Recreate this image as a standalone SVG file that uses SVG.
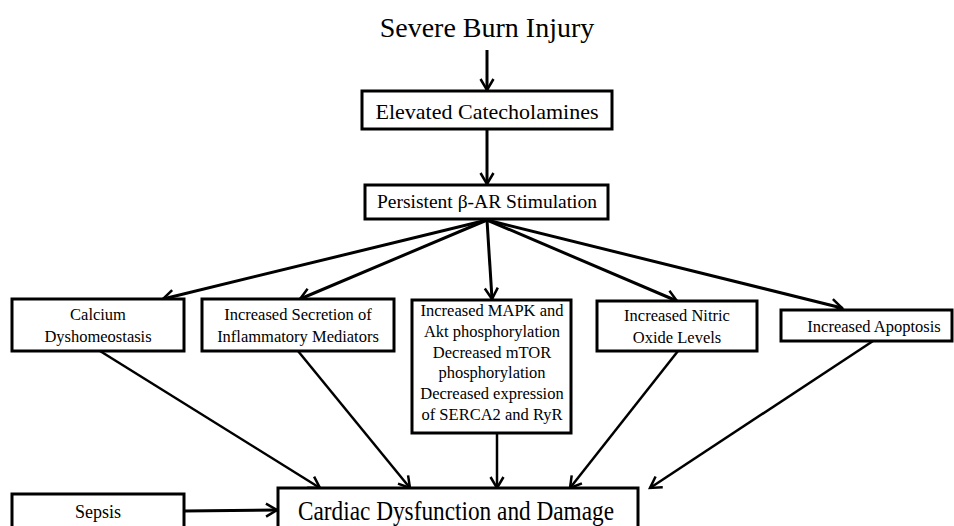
<svg xmlns="http://www.w3.org/2000/svg" width="954" height="526" viewBox="0 0 954 526">
<style>
.box{fill:#fff;stroke:#000;stroke-width:3}
.t{font-family:"Liberation Serif","Times New Roman",serif;fill:#000;text-anchor:middle}
.s{font-size:16.5px}
.c{fill:none;stroke:#000;stroke-width:3}
.c2{fill:none;stroke:#000;stroke-width:2.5}
</style>
<defs>
<marker id="ah" markerUnits="userSpaceOnUse" markerWidth="16" markerHeight="16" viewBox="0 0 16 16" refX="13" refY="8" orient="auto">
<path d="M2,1.5 L13,8 L2,14.5" fill="none" stroke="#000" stroke-width="2.5"/>
</marker>
</defs>
<g id="connectors">
<line class="c" x1="487" y1="50" x2="487" y2="90" marker-end="url(#ah)"/>
<line class="c" x1="487" y1="129" x2="487" y2="184" marker-end="url(#ah)"/>
<line class="c" x1="487" y1="220" x2="163" y2="299" marker-end="url(#ah)"/>
<line class="c" x1="487" y1="220" x2="300" y2="299" marker-end="url(#ah)"/>
<line class="c" x1="487" y1="220" x2="492" y2="299" marker-end="url(#ah)"/>
<line class="c" x1="487" y1="220" x2="677" y2="301" marker-end="url(#ah)"/>
<line class="c" x1="487" y1="220" x2="842" y2="308" marker-end="url(#ah)"/>
<line class="c2" x1="100" y1="351" x2="320" y2="488" marker-end="url(#ah)"/>
<line class="c2" x1="298" y1="351" x2="410" y2="488" marker-end="url(#ah)"/>
<line class="c2" x1="497" y1="433" x2="497" y2="488" marker-end="url(#ah)"/>
<line class="c2" x1="678" y1="351" x2="570" y2="488" marker-end="url(#ah)"/>
<line class="c2" x1="873" y1="341" x2="650" y2="488" marker-end="url(#ah)"/>
<line class="c" x1="184" y1="511" x2="277" y2="510" marker-end="url(#ah)"/>
</g>
<g id="severe-burn">
<text class="t" x="487" y="37" font-size="28">Severe Burn Injury</text>
</g>
<g id="catecholamines">
<rect class="box" x="362" y="91" width="250" height="38"/>
<text class="t" x="487" y="119" font-size="22">Elevated Catecholamines</text>
</g>
<g id="beta-ar">
<rect class="box" x="365" y="185" width="243" height="34"/>
<text class="t" x="487" y="208" font-size="19.5">Persistent β-AR Stimulation</text>
</g>
<g id="calcium">
<rect class="box" x="12" y="299" width="172" height="52"/>
<text class="t s" x="98" y="320">Calcium</text>
<text class="t s" x="98" y="342">Dyshomeostasis</text>
</g>
<g id="inflammatory">
<rect class="box" x="202" y="299" width="192" height="52"/>
<text class="t s" x="298" y="320">Increased Secretion of</text>
<text class="t s" x="298" y="342">Inflammatory Mediators</text>
</g>
<g id="mapk">
<rect class="box" x="412" y="300" width="159" height="133"/>
<text class="t s" x="492" y="316">Increased MAPK and</text>
<text class="t s" x="492" y="337">Akt phosphorylation</text>
<text class="t s" x="492" y="358">Decreased mTOR</text>
<text class="t s" x="492" y="378">phosphorylation</text>
<text class="t s" x="492" y="399">Decreased expression</text>
<text class="t s" x="492" y="420">of SERCA2 and RyR</text>
</g>
<g id="nitric">
<rect class="box" x="597" y="301" width="160" height="50"/>
<text class="t s" x="677" y="321">Increased Nitric</text>
<text class="t s" x="677" y="343">Oxide Levels</text>
</g>
<g id="apoptosis">
<rect class="box" x="781" y="310" width="171" height="31"/>
<text class="t s" x="874" y="332">Increased Apoptosis</text>
</g>
<g id="sepsis">
<rect class="box" x="12" y="494" width="172" height="40"/>
<text class="t" x="98" y="518" font-size="18">Sepsis</text>
</g>
<g id="cardiac">
<rect class="box" x="278" y="488" width="360" height="44"/>
<text class="t" x="456" y="520" font-size="27" textLength="316" lengthAdjust="spacingAndGlyphs">Cardiac Dysfunction and Damage</text>
</g>
</svg>
